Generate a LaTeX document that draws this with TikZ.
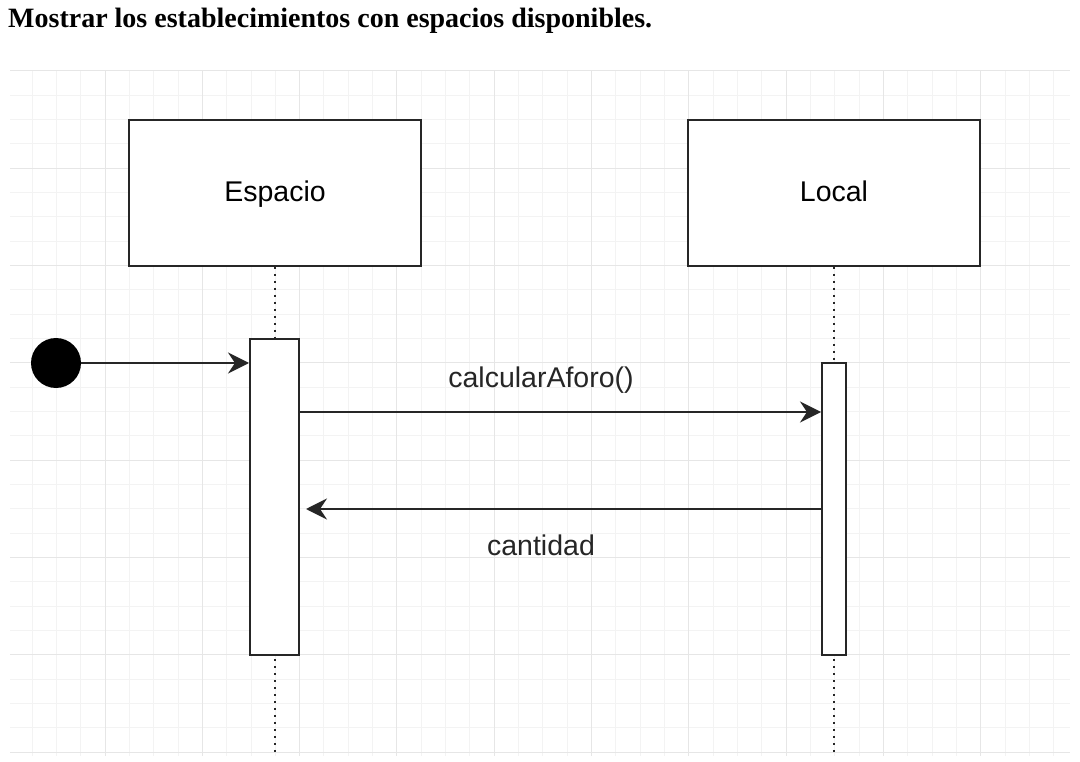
\documentclass[tikz,border=0pt]{standalone}
\usepackage{fontspec}
\setmainfont{Liberation Sans}
\newfontfamily\titlefont{Liberation Serif}
\usetikzlibrary{arrows.meta}
\definecolor{gridminor}{HTML}{F3F3F3}
\definecolor{gridmajor}{HTML}{E6E6E6}
\begin{document}
\begin{tikzpicture}[x=1pt,y=-1pt,
  box/.style={draw=black!85, line width=2pt, fill=white, font=\fontsize{28.5}{32}\selectfont, text height=23pt, text depth=6pt},
  actbox/.style={draw=black!85, line width=2pt, fill=white},
  msg/.style={draw=black!85, line width=2pt, -{Stealth[length=21pt,width=21pt,inset=7pt]}},
  life/.style={draw=black!85, line width=2pt, dash pattern=on 2pt off 5pt},
  lbl/.style={font=\fontsize{28.5}{32}\selectfont, text=black!85, anchor=base, inner sep=0}]
\useasboundingbox (0,0) rectangle (1080,762);
\fill[white] (0,0) rectangle (1080,762);
\begin{scope}
  \clip (10,71) rectangle (1070,756);
  \foreach \i in {0,...,44} {
    \draw[gridminor, line width=1pt] ({7.7+24.33*\i},71) -- ({7.7+24.33*\i},756);
  }
  \foreach \i in {0,...,28} {
    \draw[gridminor, line width=1pt] (10,{71+24.33*\i}) -- (1070,{71+24.33*\i});
  }
  \foreach \i in {0,...,11} {
    \draw[gridmajor, line width=1pt] ({7.7+97.3*\i},71) -- ({7.7+97.3*\i},756);
  }
  \foreach \i in {0,...,7} {
    \draw[gridmajor, line width=1pt] (10,{71+97.3*\i}) -- (1070,{71+97.3*\i});
  }
\end{scope}

\node[anchor=base west, inner sep=0, font=\titlefont\bfseries\fontsize{28}{32}\selectfont] (title) at (8,28) {Mostrar los establecimientos con espacios disponibles.};

\node[box, minimum width=292pt, minimum height=146pt] (esp) at (275,193) {Espacio};
\node[box, minimum width=292pt, minimum height=146pt] (loc) at (834,193) {Local};

\coordinate (end1) at (275,755);
\coordinate (end2) at (834,755);
\draw[life] (esp.south) -- (end1);
\draw[life] (loc.south) -- (end2);

\node[actbox, minimum width=49pt, minimum height=316pt, inner sep=0] (a1) at (274.5,497) {};
\node[actbox, minimum width=24pt, minimum height=292pt, inner sep=0] (a2) at (834,509) {};

\node[circle, fill=black, minimum size=50pt, inner sep=0] (start) at (56,363) {};

\coordinate (y1) at (0,412);
\coordinate (y2) at (0,509);
\draw[msg] (start.east) -- (a1.west |- start);
\draw[msg] (a1.east |- y1) -- (a2.west |- y1);
\draw[msg, shorten >=6pt] (a2.west |- y2) -- (a1.east |- y2);

\node[lbl] (l1) at (541,388) {calcularAforo()};
\node[lbl] (l2) at (541,555) {cantidad};
\end{tikzpicture}
\end{document}
